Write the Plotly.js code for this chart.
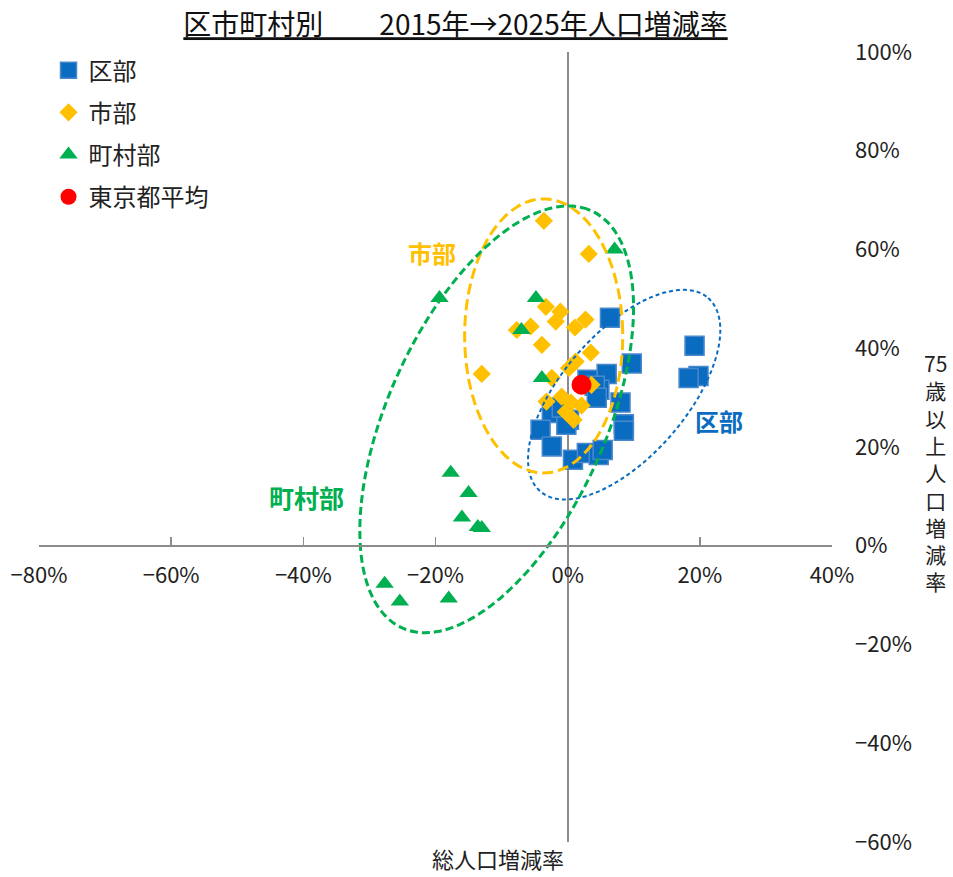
<!DOCTYPE html>
<html>
<head>
<meta charset="utf-8">
<script src="https://cdn.plot.ly/plotly-3.0.1.min.js"></script>
<style>
  html, body { margin: 0; padding: 0; background: #ffffff; }
  #chart { width: 953px; height: 877px; }
</style>
</head>
<body>
<div id="chart"></div>
<script>
// ---- data (total population change %, 75+ population change %) ----
const seriesNames = ['区部', '市部', '町村部', '東京都平均'];

const kubuX = [6.4, 19.2, 19.8, 18.3, 9.7, 5.9, 3.0, 4.8, 4.1, 8.0, -2.4, 0.2, -4.1, 8.5, 8.5, -2.4, 0.8, 2.9, 4.7, 5.3, -0.2, -0.9, 4.4];
const kubuY = [46.2, 40.5, 34.4, 34.0, 36.9, 34.8, 33.6, 31.6, 32.4, 29.0, 26.9, 25.5, 23.5, 24.6, 23.3, 20.1, 17.4, 18.8, 18.4, 19.4, 24.5, 28.0, 30.0];

const shibuX = [-3.6, 3.2, -3.3, -1.1, -1.8, 2.7, 1.1, -7.7, -5.6, -3.9, 3.5, -13.0, 1.2, 0.2, -2.4, 2.4, -3.2, -0.9, 0.5, 2.1, -0.3, 0.9, 3.6];
const shibuY = [65.8, 59.1, 48.4, 47.4, 45.4, 45.8, 44.2, 43.7, 44.4, 40.7, 39.1, 34.8, 37.3, 36.0, 34.0, 32.6, 29.2, 30.2, 29.0, 28.4, 27.1, 25.5, 32.6];

const chosonX = [7.1, -19.4, -4.8, -7.0, -3.9, -17.7, -15.0, -16.0, -13.6, -13.0, -27.7, -25.4, -18.0];
const chosonY = [60.0, 50.2, 50.2, 43.7, 34.0, 14.8, 10.7, 5.7, 3.8, 3.6, -7.7, -11.3, -10.7];

const avgX = [2.1];
const avgY = [32.6];

// x ticks and y ticks
const xTickVals = [-80, -60, -40, -20, 0, 20, 40];
const xTickText = ['−80%', '−60%', '−40%', '−20%', '0%', '20%', '40%'];
const yTickVals = [-60, -40, -20, 0, 20, 40, 60, 80, 100];
const yTickText = ['−60%', '−40%', '−20%', '0%', '20%', '40%', '60%', '80%', '100%'];

// group ellipses: centre and two conjugate half-axis vectors (data units)
const ellipseNames = ['区部', '市部', '町村部'];
const ellipseCX = [8.55, -3.63, -10.74];
const ellipseCY = [30.6, 42.5, 25.6];
const ellipseUX = [12.71, 11.96, 14.31];
const ellipseUY = [19.57, 0.0, 42.25];
const ellipseVX = [-7.08, 0.0, -14.97];
const ellipseVY = [8.24, 27.75, 9.08];

// group labels
const labelText = ['市部', '区部', '町村部'];
const labelX = [-20.6, 22.9, -39.5];
const labelY = [59.3, 25.3, 9.9];

// ---- styles ----
const BLUE = '#0A6CC0', YELLOW = '#FFC000', GREEN = '#00B050', RED = '#FF0000';
const FONT = '"Noto Sans CJK JP", sans-serif';
const CJK = '"Noto Sans CJK JP", sans-serif';

const traces = [
  { x: kubuX, y: kubuY, name: seriesNames[0], type: 'scatter', mode: 'markers', legendgroup: 'a',
    marker: { symbol: 'square', size: 19, color: BLUE, line: { color: '#4A88CC', width: 1.5 } } },
  { x: shibuX, y: shibuY, name: seriesNames[1], type: 'scatter', mode: 'markers', legendgroup: 'b',
    marker: { symbol: 'diamond', size: 14, color: YELLOW, line: { width: 0 } } },
  { x: chosonX, y: chosonY, name: seriesNames[2], type: 'scatter', mode: 'markers', legendgroup: 'c',
    marker: { symbol: 'triangle-up', size: 16, color: GREEN, line: { width: 0 } } },
  { x: avgX, y: avgY, name: seriesNames[3], type: 'scatter', mode: 'markers', legendgroup: 'd',
    marker: { symbol: 'circle', size: 20, color: RED, line: { width: 0 } } }
];

const ellColors = [BLUE, YELLOW, GREEN];
const ellDash = ['4px,3px', '11px,5px', '8px,4px'];
const ellWidth = [2, 3, 3];
const N = 180;
for (let k = 0; k < ellipseNames.length; k++) {
  const ex = [], ey = [];
  for (let i = 0; i <= N; i++) {
    const t = 2 * Math.PI * i / N;
    ex.push(ellipseCX[k] + Math.cos(t) * ellipseUX[k] + Math.sin(t) * ellipseVX[k]);
    ey.push(ellipseCY[k] + Math.cos(t) * ellipseUY[k] + Math.sin(t) * ellipseVY[k]);
  }
  traces.push({ x: ex, y: ey, type: 'scatter', mode: 'lines', showlegend: false, hoverinfo: 'skip',
    line: { color: ellColors[k], width: ellWidth[k], dash: ellDash[k], shape: 'spline' } });
}

const labelColors = [YELLOW, BLUE, GREEN];
const labelSizes = [24, 24, 25];
const annotations = labelText.map((t, i) => ({
  x: labelX[i], y: labelY[i], xref: 'x', yref: 'y', text: '<b>' + t + '</b>', showarrow: false,
  font: { family: CJK, size: labelSizes[i], color: labelColors[i] }
}));
annotations.push({
  xref: 'paper', yref: 'paper', x: 0.579, y: 0.003, yanchor: 'top', xanchor: 'center',
  text: '総人口増減率', showarrow: false, font: { family: CJK, size: 22, color: '#222' }
});
annotations.push({
  xref: 'paper', yref: 'paper', x: 1.13, y: 0.468, xanchor: 'center', yanchor: 'middle',
  text: '75<br>歳<br>以<br>上<br>人<br>口<br>増<br>減<br>率', showarrow: false,
  font: { family: FONT, size: 21, color: '#222' }
});

const layout = {
  width: 953, height: 877,
  margin: { l: 39, r: 121, t: 52, b: 35, pad: 0 },
  paper_bgcolor: '#ffffff', plot_bgcolor: '#ffffff',
  font: { family: FONT, size: 22, color: '#222' },
  title: {
    text: '<u>区市町村別　　2015年→2025年人口増減率</u>',
    x: 0.478, xref: 'container', xanchor: 'center',
    y: 0.971, yref: 'container', yanchor: 'middle',
    font: { family: CJK, size: 28, color: '#111' }
  },
  showlegend: true,
  legend: {
    x: 0.012, y: 1.005, xanchor: 'left', yanchor: 'top',
    font: { family: CJK, size: 24, color: '#222' },
    tracegroupgap: 8, bgcolor: 'rgba(0,0,0,0)', itemwidth: 30
  },
  annotations: annotations,
  xaxis: {
    range: [-80, 40], autorange: false,
    tickvals: xTickVals, ticktext: xTickText,
    anchor: 'free', position: 0.375,
    showline: true, linecolor: '#8c8c8c', linewidth: 2,
    ticks: 'inside', ticklen: 8, tickwidth: 1.5, tickcolor: '#8c8c8c',
    ticklabelstandoff: 10,
    showgrid: false,
    zeroline: true, zerolinecolor: '#8c8c8c', zerolinewidth: 2,
    tickfont: { family: FONT, size: 22, color: '#222' }
  },
  yaxis: {
    range: [-60, 100], autorange: false,
    tickvals: yTickVals, ticktext: yTickText,
    side: 'right', showline: false, ticks: '',
    ticklabelstandoff: 22,
    showgrid: false, zeroline: false,
    tickfont: { family: FONT, size: 22, color: '#222' }
  }
};

Plotly.newPlot('chart', traces, layout, { displayModeBar: false, staticPlot: true });
</script>
</body>
</html>
